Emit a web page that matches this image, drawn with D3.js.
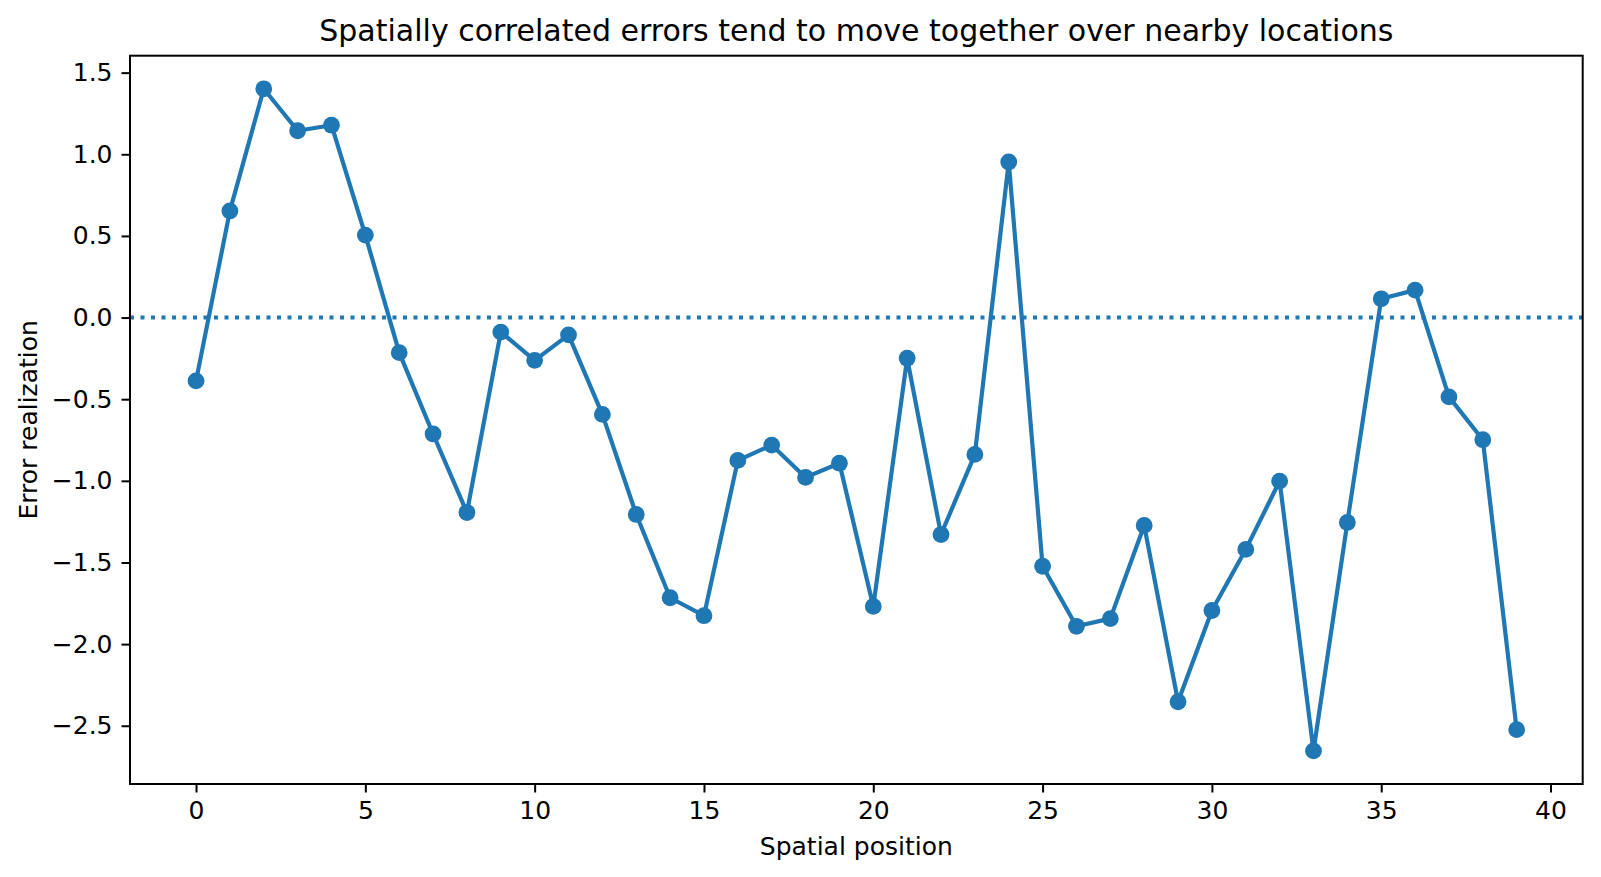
<!DOCTYPE html>
<html>
<head>
<meta charset="utf-8">
<script src="https://cdn.jsdelivr.net/npm/d3@7"></script>
<style>
  body { margin: 0; background: white; }
  text { font-family: "DejaVu Sans", sans-serif; }
</style>
</head>
<body>
<div id="container"></div>
<script>
let w = 1601;
let h = 877;

///////////// data
let positions = d3.range(0, 40);
let errors = [
  -0.388, 0.653, 1.401, 1.144, 1.178, 0.505, -0.215, -0.713, -1.194, -0.089,
  -0.262, -0.106, -0.593, -1.206, -1.716, -1.826, -0.875, -0.781, -0.979, -0.892,
  -1.769, -0.249, -1.329, -0.838, 0.953, -1.523, -1.891, -1.844, -1.273, -2.353,
  -1.794, -1.420, -1.002, -2.654, -1.255, 0.115, 0.168, -0.486, -0.748, -2.524
];
let xTicks = [0, 5, 10, 15, 20, 25, 30, 35, 40];
let yTicks = [-2.5, -2.0, -1.5, -1.0, -0.5, 0.0, 0.5, 1.0, 1.5];
let referenceLevel = [0];

let titleText = "Spatially correlated errors tend to move together over nearby locations";
let xLabelText = "Spatial position";
let yLabelText = "Error realization";

let blue = "#1f77b4";

let viz = d3.select("#container")
  .append("svg")
    .attr("width", w)
    .attr("height", h)
    .style("background-color", "white");

// plot box
let plotLeft = 130, plotRight = 1582.7, plotTop = 55.7, plotBottom = 784;

// matplotlib style 5% margins
function padded(extent) {
  let m = (extent[1] - extent[0]) * 0.05;
  return [extent[0] - m, extent[1] + m];
}

let points = positions.map(function (p, i) { return { x: p, y: errors[i] }; });

let xScale = d3.scaleLinear().domain(padded(d3.extent(positions))).range([plotLeft, plotRight]);
let yScale = d3.scaleLinear().domain(padded(d3.extent(errors))).range([plotBottom, plotTop]);

////////// x axis
let xAxis = d3.axisBottom(xScale)
  .tickValues(xTicks)
  .tickFormat(d3.format("d"))
  .tickSize(8.5)
  .tickPadding(9);
let xAxisGroup = viz.append("g")
  .attr("class", "xaxis")
  .attr("transform", "translate(0," + plotBottom + ")")
  .call(xAxis);

////////// y axis
let yAxis = d3.axisLeft(yScale)
  .tickValues(yTicks)
  .tickFormat(d3.format(".1f"))
  .tickSize(8.5)
  .tickPadding(9);
let yAxisGroup = viz.append("g")
  .attr("class", "yaxis")
  .attr("transform", "translate(" + plotLeft + ",0)")
  .call(yAxis);

viz.selectAll(".xaxis, .yaxis").select(".domain").remove();
viz.selectAll(".xaxis line, .yaxis line").attr("stroke", "black").attr("stroke-width", 2);
viz.selectAll(".xaxis text, .yaxis text")
  .attr("fill", "black")
  .style("font-size", "25px");

////////// dotted zero line
viz.selectAll(".refline").data(referenceLevel).enter()
  .append("line")
    .attr("class", "refline")
    .attr("x1", plotLeft)
    .attr("x2", plotRight)
    .attr("y1", function (d) { return yScale(d); })
    .attr("y2", function (d) { return yScale(d); })
    .attr("stroke", blue)
    .attr("stroke-width", 4)
    .attr("stroke-dasharray", "4 6.5");

////////// line + markers
let lineMaker = d3.line()
  .x(function (d) { return xScale(d.x); })
  .y(function (d) { return yScale(d.y); });

viz.append("path")
  .datum(points)
  .attr("d", lineMaker)
  .attr("fill", "none")
  .attr("stroke", blue)
  .attr("stroke-width", 4.2)
  .attr("stroke-linejoin", "round");

viz.selectAll(".dot").data(points).enter()
  .append("circle")
    .attr("class", "dot")
    .attr("cx", function (d) { return xScale(d.x); })
    .attr("cy", function (d) { return yScale(d.y); })
    .attr("r", 8.4)
    .attr("fill", blue);

////////// frame
viz.append("rect")
  .attr("x", plotLeft)
  .attr("y", plotTop)
  .attr("width", plotRight - plotLeft)
  .attr("height", plotBottom - plotTop)
  .attr("fill", "none")
  .attr("stroke", "black")
  .attr("stroke-width", 2);

////////// texts
viz.append("text")
  .attr("x", (plotLeft + plotRight) / 2)
  .attr("y", 41)
  .attr("text-anchor", "middle")
  .style("font-size", "30px")
  .text(titleText);

viz.append("text")
  .attr("x", (plotLeft + plotRight) / 2)
  .attr("y", 855)
  .attr("text-anchor", "middle")
  .style("font-size", "25px")
  .text(xLabelText);

viz.append("text")
  .attr("transform", "translate(37," + (plotTop + plotBottom) / 2 + ") rotate(-90)")
  .attr("text-anchor", "middle")
  .style("font-size", "25px")
  .text(yLabelText);
</script>
</body>
</html>
